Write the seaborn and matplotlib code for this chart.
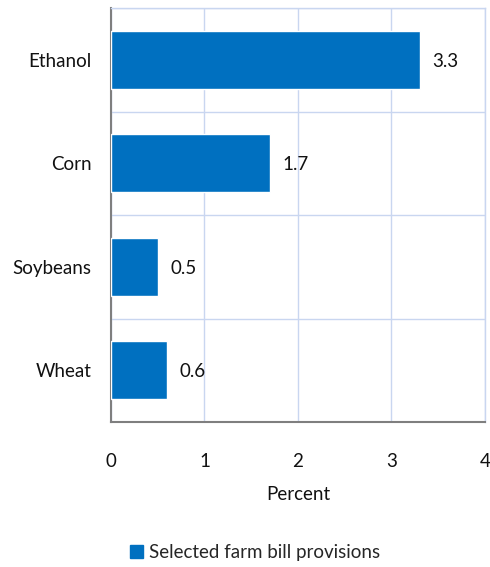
import matplotlib
matplotlib.use("Agg")
import matplotlib.pyplot as plt
import seaborn as sns
import pandas as pd
from matplotlib.patches import Patch

categories = ["Ethanol", "Corn", "Soybeans", "Wheat"]
values = [3.3, 1.7, 0.5, 0.6]
value_labels = ["3.3", "1.7", "0.5", "0.6"]
x_ticks = [0, 1, 2, 3, 4]
series_name = "Selected farm bill provisions"
x_label = "Percent"

sns.set_theme(style="white")
plt.rcParams["font.family"] = ["Lato", "DejaVu Sans"]

FS = 13.5

df = pd.DataFrame({"category": categories, "value": values})

fig = plt.figure(figsize=(4.9, 5.67), dpi=100)
ax = fig.add_axes([0.2265, 0.2557, 0.9898 - 0.2265, 0.9859 - 0.2557])

blue = "#0070C0"
grid_c = "#C9D6F0"

sns.barplot(data=df, x="value", y="category", orient="h", color=blue,
            width=0.56, saturation=1, ax=ax, zorder=3)

ax.set_xlim(0, 4)
ax.set_ylim(3.5, -0.5)
ax.set_xticks(x_ticks)
ax.set_xticklabels([str(t) for t in x_ticks], fontsize=FS, color="#111111")
ax.set_yticks(range(len(categories)))
ax.set_yticklabels(categories, fontsize=FS, color="#111111")
ax.set_yticks([-0.5, 0.5, 1.5, 2.5, 3.5], minor=True)
ax.tick_params(axis="both", which="both", length=0)
ax.tick_params(axis="x", pad=22)
ax.tick_params(axis="y", pad=14)

ax.grid(axis="x", which="major", color=grid_c, linewidth=1.0, zorder=0)
ax.grid(axis="y", which="minor", color=grid_c, linewidth=1.0, zorder=0)
ax.set_axisbelow(True)

for s in ["top", "right"]:
    ax.spines[s].set_color(grid_c)
    ax.spines[s].set_linewidth(1.0)
ax.spines["left"].set_color("#7F7F7F")
ax.spines["left"].set_linewidth(1.5)
ax.spines["bottom"].set_color("#7F7F7F")
ax.spines["bottom"].set_linewidth(1.5)

for i, (v, lab) in enumerate(zip(values, value_labels)):
    ax.annotate(lab, xy=(v, i), xytext=(9, -1), textcoords="offset points",
                ha="left", va="center", fontsize=FS, color="#111111")

ax.set_xlabel(x_label, fontsize=FS, color="#111111", labelpad=12)
ax.set_ylabel("")

handle = Patch(facecolor=blue, edgecolor=blue)
fig.legend([handle], [series_name], loc="center", bbox_to_anchor=(0.52, 0.025),
           frameon=False, fontsize=FS, handlelength=0.7, handleheight=0.7,
           handletextpad=0.3)

fig.savefig("out.png", dpi=100)
